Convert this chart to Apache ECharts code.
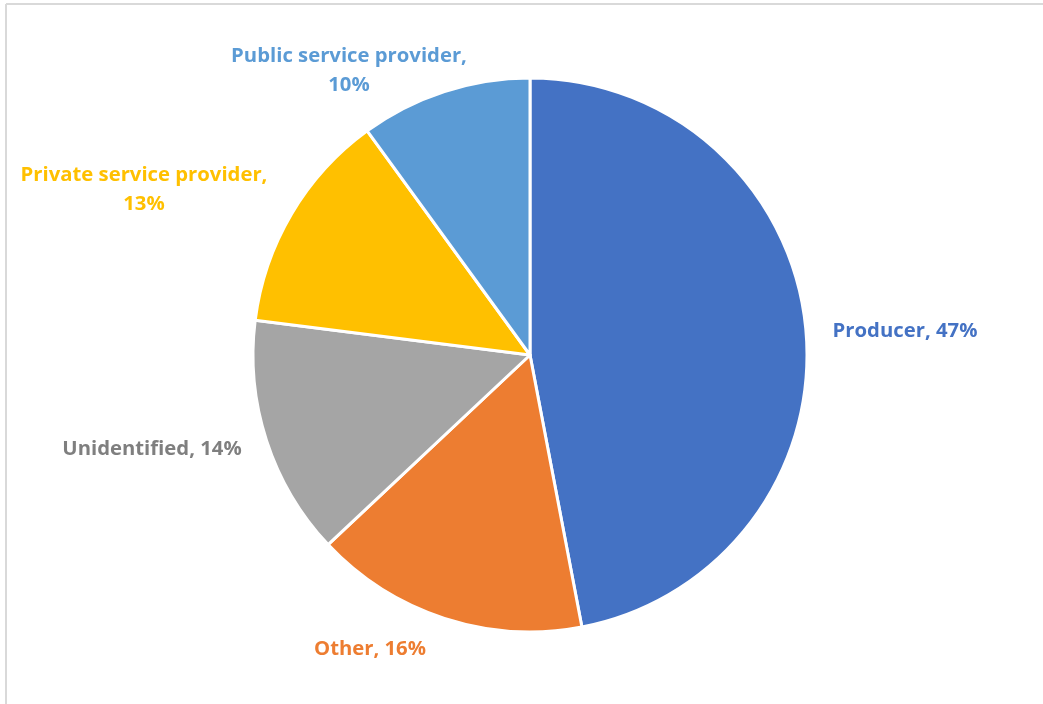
<!DOCTYPE html>
<html>
<head>
<meta charset="utf-8">
<script src="https://cdn.jsdelivr.net/npm/echarts@6/dist/echarts.min.js"></script>
<style>
  html, body { margin: 0; padding: 0; background: #fff; }
  #chart { width: 1043px; height: 704px; }
</style>
</head>
<body>
<div id="chart"></div>
<script>
// Survey share by respondent type, clockwise from 12 o'clock
const categories = ['Producer', 'Other', 'Unidentified', 'Private service provider', 'Public service provider'];
const shares = [47, 16, 14, 13, 10];
const sliceColors = ['#4472C4', '#ED7D31', '#A5A5A5', '#FFC000', '#5B9BD5'];
const labelColors = ['#4472C4', '#ED7D31', '#7F7F7F', '#FFC000', '#5B9BD5'];

// label anchor points (centre of each label block)
const labelSpots = [[905, 331], [370, 649], [152, 449], [144, 190], [349, 71]];

const chart = echarts.init(document.getElementById('chart'), null, { renderer: 'canvas' });

chart.setOption({
  backgroundColor: '#ffffff',
  animation: false,
  graphic: [
    { type: 'line', shape: { x1: 6, y1: 4, x2: 1043, y2: 4 }, style: { stroke: '#d9d9d9', lineWidth: 2 } },
    { type: 'line', shape: { x1: 6, y1: 4, x2: 6, y2: 704 }, style: { stroke: '#d9d9d9', lineWidth: 2 } }
  ],
  series: [{
    type: 'pie',
    center: [530, 355],
    radius: 277,
    startAngle: 90,
    clockwise: true,
    avoidLabelOverlap: false,
    itemStyle: { borderColor: '#ffffff', borderWidth: 3 },
    labelLine: { show: false },
    label: {
      show: true,
      position: 'outside',
      fontFamily: 'Open Sans',
      fontWeight: 'bold',
      fontSize: 20.3,
      lineHeight: 29,
      align: 'center',
      formatter: function (p) {
        if (p.dataIndex >= 3) return p.name + ',\n' + p.value + '%';
        return p.name + ', ' + p.value + '%';
      }
    },
    labelLayout: function (p) {
      const s = labelSpots[p.dataIndex];
      return { x: s[0], y: s[1], align: 'center', verticalAlign: 'middle', moveOverlap: false };
    },
    data: categories.map((c, i) => ({
      name: c,
      value: shares[i],
      itemStyle: { color: sliceColors[i] },
      label: { color: labelColors[i] }
    }))
  }]
});
</script>
</body>
</html>
